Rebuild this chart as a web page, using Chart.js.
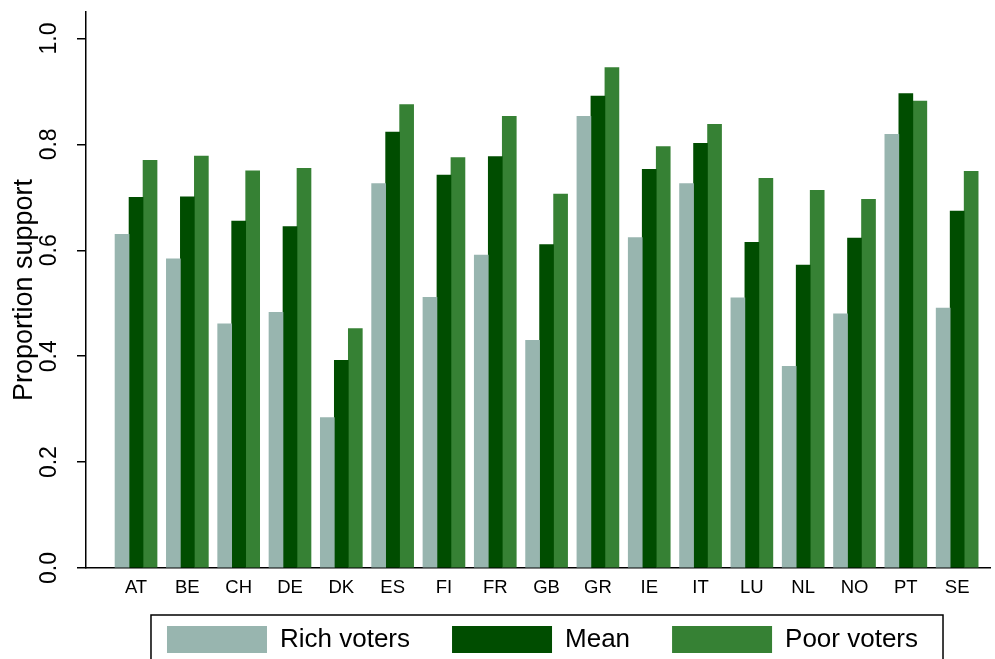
<!DOCTYPE html>
<html lang="en">
<head>
    <meta charset="UTF-8">
    <title>Proportion support</title>
    <script src="https://cdn.jsdelivr.net/npm/chart.js@4.4.0/dist/chart.umd.min.js"></script>
    <style>
        body { margin: 0; background: #fff; }
        canvas { display: block; }
    </style>
</head>
<body>
    <canvas id="myChart" width="995" height="659"></canvas>

    <script>
        const countries = ['AT', 'BE', 'CH', 'DE', 'DK', 'ES', 'FI', 'FR', 'GB', 'GR', 'IE', 'IT', 'LU', 'NL', 'NO', 'PT', 'SE'];
        const richVoters = [0.630, 0.584, 0.461, 0.483, 0.284, 0.726, 0.511, 0.591, 0.430, 0.853, 0.624, 0.726, 0.510, 0.381, 0.480, 0.819, 0.491];
        const meanSupport = [0.700, 0.701, 0.655, 0.645, 0.392, 0.823, 0.742, 0.777, 0.611, 0.891, 0.753, 0.802, 0.615, 0.572, 0.623, 0.896, 0.674];
        const poorVoters = [0.770, 0.778, 0.750, 0.755, 0.452, 0.875, 0.775, 0.853, 0.706, 0.945, 0.796, 0.838, 0.736, 0.713, 0.696, 0.882, 0.749];
        const yTicks = [0.0, 0.2, 0.4, 0.6, 0.8, 1.0];

        const FONT = '"Liberation Sans", Arial, sans-serif';
        const legendPad = 42;

        // legend sits just under the x labels, centred under the plot, with a frame round it
        const legendFrame = {
            id: 'legendFrame',
            afterLayout(chart) {
                const lg = chart.legend;
                lg.left = chart.chartArea.left + 9;
                lg.top = chart.scales.x.bottom + 10 - legendPad;
                lg.bottom = lg.top + lg.height;
            },
            afterDraw(chart) {
                const lg = chart.legend;
                const rowW = lg.lineWidths[0];
                const start = (lg.left + legendPad + lg.right - rowW) / 2;
                const ctx = chart.ctx;
                const x0 = start - 16;
                const x1 = start + rowW - legendPad + 25;
                const y0 = lg.top + legendPad - 11;
                ctx.save();
                ctx.strokeStyle = '#000';
                ctx.lineWidth = 1.5;
                ctx.strokeRect(x0, y0, x1 - x0, chart.height + 10 - y0);
                ctx.restore();
            }
        };

        const toXY = arr => arr.map((v, i) => ({ x: i, y: v }));

        var ctx = document.getElementById('myChart').getContext('2d');
        var myChart = new Chart(ctx, {
            type: 'bar',
            data: {
                datasets: [{
                    label: 'Rich voters',
                    data: toXY(richVoters),
                    backgroundColor: '#98b5af',
                    borderWidth: 0
                }, {
                    label: 'Mean',
                    data: toXY(meanSupport),
                    backgroundColor: '#004d00',
                    borderWidth: 0
                }, {
                    label: 'Poor voters',
                    data: toXY(poorVoters),
                    backgroundColor: '#368134',
                    borderWidth: 0
                }]
            },
            options: {
                responsive: false,
                animation: false,
                barThickness: 14,
                layout: { padding: { top: 12, right: 5, bottom: -36, left: 0 } },
                plugins: {
                    tooltip: { enabled: false },
                    legend: {
                        position: 'bottom',
                        labels: {
                            boxWidth: 100,
                            boxHeight: 27,
                            padding: legendPad,
                            color: '#000',
                            font: { family: FONT, size: 26 }
                        }
                    }
                },
                scales: {
                    x: {
                        type: 'linear',
                        offset: false,
                        min: -0.975,
                        max: 16.64,
                        grid: { display: false, drawTicks: false, offset: false },
                        border: { display: true, color: '#000', width: 1.5 },
                        ticks: {
                            stepSize: 1,
                            includeBounds: false,
                            autoSkip: false,
                            maxRotation: 0,
                            padding: 9,
                            color: '#000',
                            font: { family: FONT, size: 18.5 },
                            callback: v => countries[v]
                        },
                        afterBuildTicks: scale => {
                            scale.ticks = countries.map((c, i) => ({ value: i }));
                        },
                        afterFit: scale => { scale.height = 48; }
                    },
                    y: {
                        min: 0,
                        max: 1.05,
                        grid: { drawOnChartArea: false, drawTicks: true, tickLength: 9, color: '#000', lineWidth: 1.5 },
                        border: { display: true, color: '#000', width: 1.5 },
                        ticks: {
                            minRotation: 90,
                            maxRotation: 90,
                            crossAlign: 'center',
                            padding: 11,
                            color: '#000',
                            font: { family: FONT, size: 23 },
                            callback: v => v.toFixed(1)
                        },
                        afterBuildTicks: scale => {
                            scale.ticks = yTicks.map(v => ({ value: v }));
                        },
                        afterFit: scale => {
                            scale.width = 86;
                            scale.paddingTop = 0;
                            scale.paddingBottom = 0;
                        },
                        title: {
                            display: true,
                            text: 'Proportion support',
                            color: '#000',
                            padding: { top: 8, bottom: 0 },
                            font: { family: FONT, size: 27 }
                        }
                    }
                }
            },
            plugins: [legendFrame]
        });
    </script>
</body>
</html>
